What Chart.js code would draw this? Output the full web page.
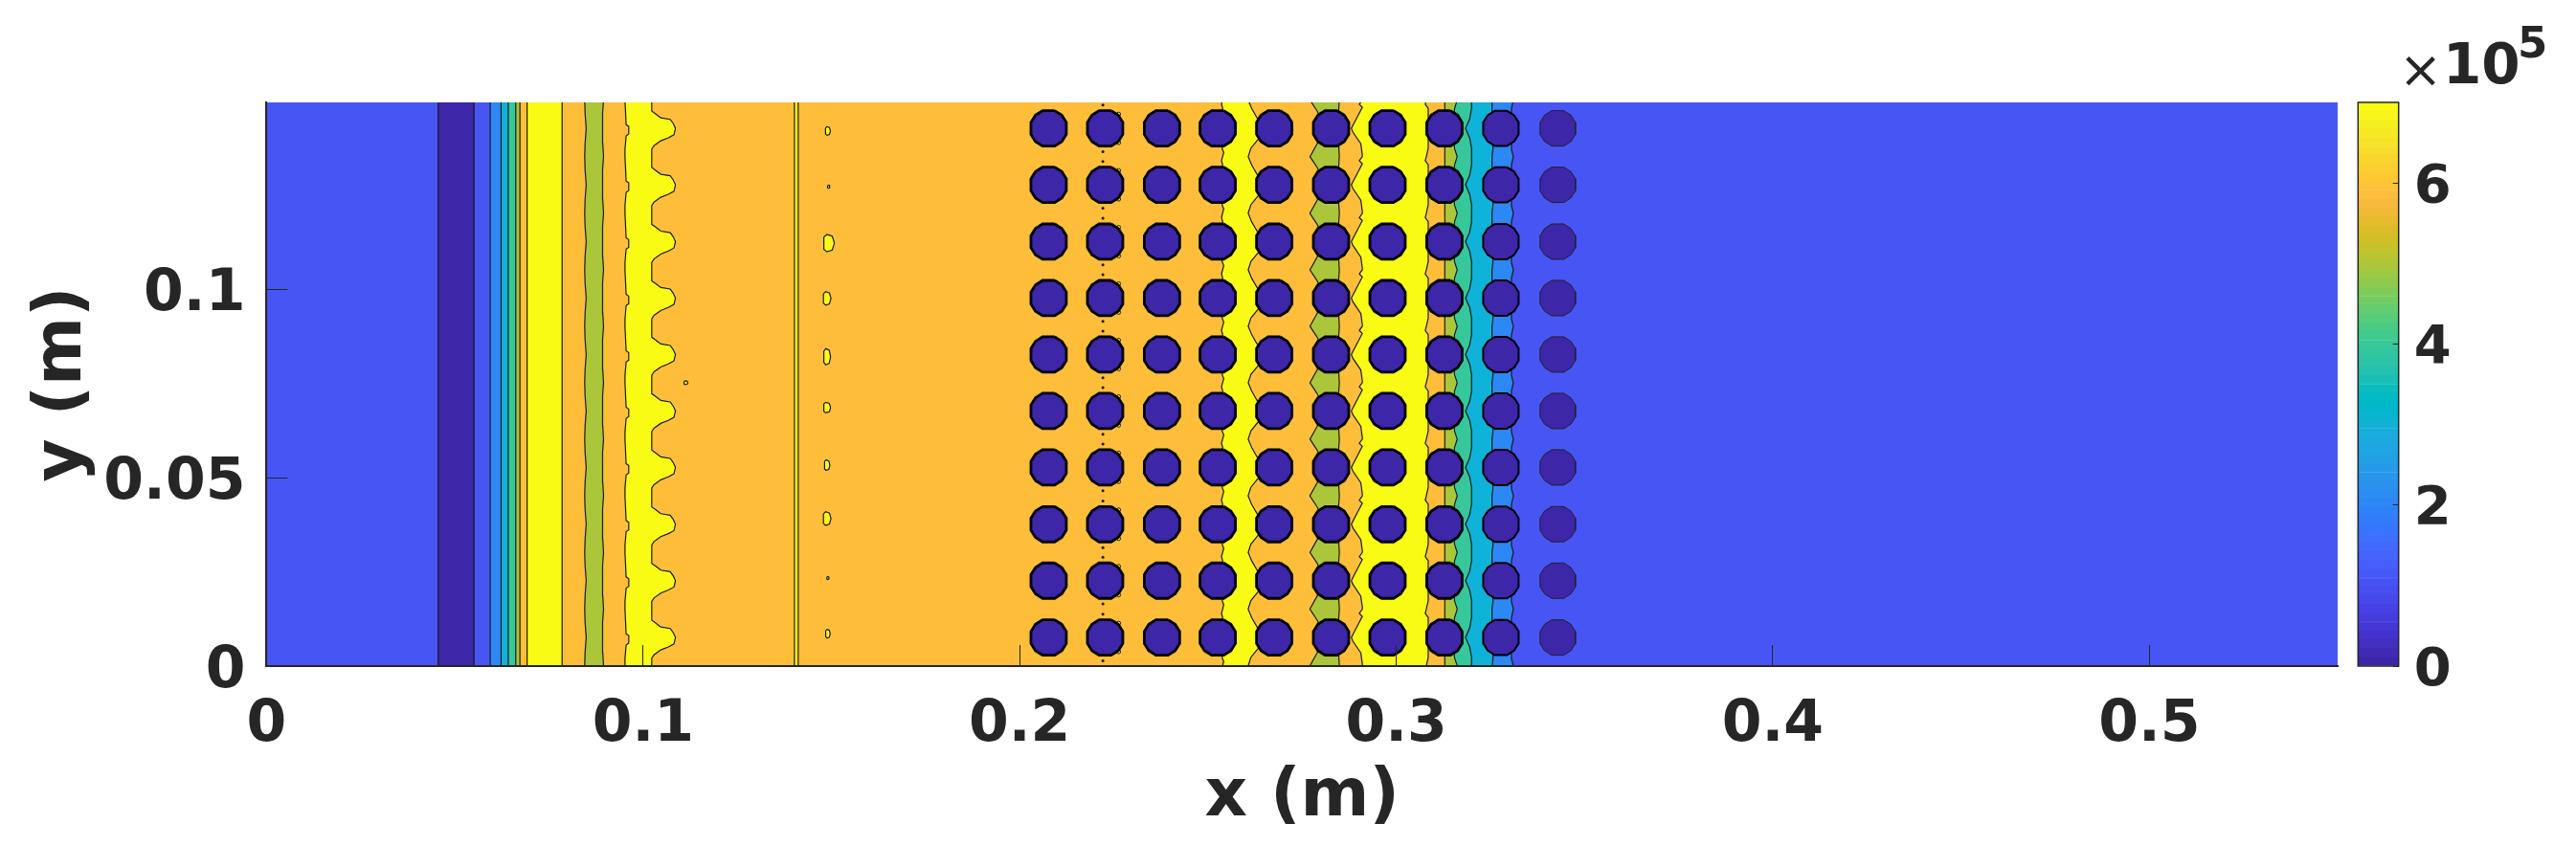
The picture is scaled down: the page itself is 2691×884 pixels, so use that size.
<!DOCTYPE html>
<html lang="en">
<head>
    <meta charset="UTF-8">
    <title>Contour plot</title>
    <script src="https://cdn.jsdelivr.net/npm/chart.js"></script>
    <style>
        body { margin: 0; background: white; }
        #wrap { position: relative; width: 2691px; height: 884px; overflow: hidden; }
        canvas { position: absolute; left: 0; top: 0; }
        .exp { position: absolute; color: #262626; font-family: "DejaVu Sans"; line-height: 1; white-space: pre; }
    </style>
</head>
<body>
    <div id="wrap">
        <canvas id="contour" width="2691" height="884"></canvas>
        <canvas id="colorbar" width="2691" height="884"></canvas>
        <span class="exp" style="left:2506px;top:46px;font-size:54px;">×</span>
        <span class="exp" style="left:2552px;top:38px;font-size:58px;font-weight:bold;">10</span>
        <span class="exp" style="left:2630px;top:22px;font-size:45px;font-weight:bold;">5</span>
    </div>

    <script>
        // axis ranges and ticks
        const xMax = 0.55;
        const yMax = 0.1498;
        const xTicks = [0, 0.1, 0.2, 0.3, 0.4, 0.5];
        const xTickLabels = ['0', '0.1', '0.2', '0.3', '0.4', '0.5'];
        const yTicks = [0, 0.05, 0.1];
        const yTickLabels = ['0', '0.05', '0.1'];
        const cbarTicks = [0, 200000, 400000, 600000];
        const cbarTickLabels = ['0', '2', '4', '6'];
        const cbarMax = 700000;

        // contour fill colours
        const dark = '#3D26A8', blue = '#4755F5', lblue = '#2C88F4', cyan = '#0FB2D8';
        const teal = '#36C79B', green = '#ABC63A', orange = '#FEBE3A', yellow = '#F9FB15';

        // cylinder centres (m)
        const cylX = [0.2077, 0.2227, 0.2378, 0.2526, 0.2676, 0.2827, 0.2977, 0.3128, 0.3278, 0.3429];
        const cylY = [0.0076, 0.0227, 0.0377, 0.0528, 0.0678, 0.0828, 0.0978, 0.1128, 0.1279, 0.1429];
        const cylEdgeWidth = [2.8, 2.8, 2.8, 2.8, 2.8, 2.8, 2.8, 2.8, 2, 1];
        // cylinder outline relative to its centre
        const cylOutlineX = [0.0016, 0.0035, 0.0047, 0.0047, 0.0035, 0.0016, -0.0016, -0.0035, -0.0047, -0.0047, -0.0035, -0.0016, 0.0016];
        const cylOutlineY = [0.0047, 0.0035, 0.0016, -0.0016, -0.0035, -0.0047, -0.0047, -0.0035, -0.0016, 0.0016, 0.0035, 0.0047, 0.0047];

        // straight contours (x in m)
        const bandEdges = [0.0456, 0.0551, 0.0594, 0.0623, 0.0642, 0.0662, 0.0673, 0.0692, 0.0785];
        const bandColors = [dark, blue, lblue, cyan, teal, green, orange, yellow, orange];

        // wavy contours, one period around a cylinder row: x (m) and y offset from the row (m)
        const greenLeftX = [0.0845, 0.0846, 0.0849, 0.0846, 0.0845];
        const greenLeftDy = [-0.0075, -0.004, 0, 0.004, 0.0075];
        const greenRightX = [0.0895, 0.0893, 0.0892, 0.0893, 0.0895];
        const greenRightDy = [-0.0075, -0.004, 0, 0.004, 0.0075];
        const nickX = [0.0952, 0.0952, 0.0955, 0.0962, 0.0962, 0.0955, 0.0952];
        const nickDy = [-0.0075, -0.0056, -0.002, -0.0015, 0.0005, 0.001, 0.0075];
        const bumpX = [0.1023, 0.1023, 0.1029, 0.1047, 0.1067, 0.1082, 0.1086, 0.108, 0.1072, 0.1047, 0.1034, 0.1023, 0.1023];
        const bumpDy = [-0.0075, -0.0055, -0.0046, -0.0033, -0.0025, -0.0017, 0, 0.0013, 0.0024, 0.0028, 0.0038, 0.0046, 0.0075];
        const gapX = [0.2539, 0.2542, 0.2538, 0.2539, 0.2539, 0.2536, 0.2539];
        const gapDy = [-0.0075, -0.0064, -0.0054, 0, 0.0054, 0.0064, 0.0075];
        const lensX = [0.2607, 0.2614, 0.2631, 0.2661, 0.2631, 0.2616, 0.2607];
        const lensDy = [-0.0075, -0.0053, -0.0032, 0, 0.0027, 0.0053, 0.0075];
        const midLeftX = [0.2771, 0.279, 0.2813, 0.279, 0.2771];
        const midLeftDy = [-0.0075, -0.0041, 0, 0.0046, 0.0075];
        const midRightX = [0.2849, 0.2847, 0.2845, 0.2847, 0.2849];
        const midRightDy = [-0.0075, -0.0041, 0, 0.0046, 0.0075];
        const pinchX = [0.291, 0.291, 0.2906, 0.2885, 0.2881, 0.2885, 0.2897, 0.291, 0.2902, 0.291];
        const pinchDy = [-0.0075, -0.007, -0.0041, -0.001, 0, 0.0008, 0.0031, 0.0056, 0.0064, 0.0075];
        const rightYellowX = [0.308, 0.3085, 0.3085, 0.3085, 0.3077, 0.308];
        const rightYellowDy = [-0.0075, -0.0053, 0, 0.0053, 0.0064, 0.0075];
        const tealX = [0.3162, 0.3155, 0.315, 0.3155, 0.3162];
        const tealDy = [-0.0075, -0.0054, 0, 0.0053, 0.0075];
        const cyanX = [0.32, 0.32, 0.3195, 0.3184, 0.3195, 0.32, 0.32];
        const cyanDy = [-0.0075, -0.0053, -0.0025, 0, 0.0025, 0.0053, 0.0075];
        const lblueX = [0.3255, 0.3257, 0.3255, 0.3253, 0.3255];
        const lblueDy = [-0.0075, -0.0053, 0, 0.0053, 0.0075];
        const blueX = [0.3311, 0.3306, 0.3306, 0.3306, 0.3311];
        const blueDy = [-0.0075, -0.0056, 0, 0.0053, 0.0075];

        // small closed yellow islands
        const islandX = [0.1491, 0.1493, 0.1494, 0.1489, 0.1489, 0.1489, 0.1489, 0.1489, 0.1491, 0.1491, 0.1114];
        const islandY = [0.1422, 0.1274, 0.1124, 0.0977, 0.0822, 0.0687, 0.0534, 0.0392, 0.0234, 0.0086, 0.0753];
        const islandW = [0.0013, 0.0006, 0.0028, 0.002, 0.0018, 0.0018, 0.0014, 0.002, 0.0006, 0.0012, 0.001];
        const islandH = [0.0023, 0.0008, 0.0046, 0.0036, 0.0043, 0.0028, 0.0028, 0.0036, 0.0008, 0.0023, 0.001];
        const islandShapeX = [-0.5, -0.2, 0.3, 0.5, 0.3, -0.2, -0.5, -0.5];
        const islandShapeY = [0.35, 0.5, 0.4, 0, -0.4, -0.5, -0.35, 0.35];

        // specks around the second cylinder column
        const speckX = 0.2221;
        const speckDy = [-0.0062, 0.0062];
        const sliverX = 0.2263;
        const sliverDy = [-0.0038, 0.0038];

        // colormap levels of the colour bar
        const cbarColors = [
            '#3E26A8', '#402AB4', '#422EBF', '#4332CB', '#4537D5', '#463CDE', '#4741E5', '#4747EB',
            '#484DF0', '#4852F4', '#4758F8', '#465EFB', '#4563FD', '#4269FE', '#3E6FFF', '#3875FE',
            '#327BFC', '#2F81FA', '#2D87F7', '#2D8CF3', '#2B91EF', '#2796EB', '#259BE7', '#23A0E5',
            '#20A5E3', '#1CA9DF', '#18ADDB', '#12B1D6', '#08B5D0', '#01B8CA', '#02BAC3', '#0BBDBC',
            '#19BFB6', '#24C1AE', '#2CC3A7', '#31C69F', '#37C897', '#3FCA8E', '#4ACB84', '#57CC7A',
            '#64CD6F', '#72CC64', '#81CC59', '#8FCA4E', '#9DC943', '#ABC739', '#B9C431', '#C5C22A',
            '#D1BF27', '#DCBD29', '#E6BB2D', '#F0BA36', '#F8BA3D', '#FEBE3C', '#FEC338', '#FEC832',
            '#FCCF30', '#F9D52D', '#F7DC2A', '#F5E327', '#F5E924', '#F6EF20', '#F7F51B', '#F9FB15'
        ];

        const black = '#1a1a1a';
        const textColor = '#262626';

        function flatEdge(x) {
            return [{ x: x, y: -0.01 }, { x: x, y: 0.16 }];
        }

        // repeat one measured period along all the cylinder rows
        function rowEdge(xs, dys) {
            const pts = [{ x: xs[0], y: -0.01 }];
            cylY.forEach(function (rowY) {
                xs.forEach(function (x, i) {
                    pts.push({ x: x, y: rowY + dys[i] });
                });
            });
            pts.push({ x: xs[xs.length - 1], y: 0.16 });
            return pts;
        }

        const contours = bandEdges.map(function (x, i) {
            return { pts: flatEdge(x), color: bandColors[i] };
        });
        contours.push({ pts: rowEdge(greenLeftX, greenLeftDy), color: green });
        contours.push({ pts: rowEdge(greenRightX, greenRightDy), color: orange });
        contours.push({ pts: rowEdge(nickX, nickDy), color: yellow });
        contours.push({ pts: rowEdge(bumpX, bumpDy), color: orange });
        contours.push({ pts: flatEdge(0.1402), color: yellow });
        contours.push({ pts: flatEdge(0.1412), color: orange });
        contours.push({ pts: rowEdge(gapX, gapDy), color: yellow });
        contours.push({ pts: rowEdge(lensX, lensDy), color: orange });
        contours.push({ pts: rowEdge(midLeftX, midLeftDy), color: green });
        contours.push({ pts: rowEdge(midRightX, midRightDy), color: orange });
        contours.push({ pts: rowEdge(pinchX, pinchDy), color: yellow });
        contours.push({ pts: rowEdge(rightYellowX, rightYellowDy), color: orange });
        contours.push({ pts: flatEdge(0.3129), color: green });
        contours.push({ pts: rowEdge(tealX, tealDy), color: teal });
        contours.push({ pts: rowEdge(cyanX, cyanDy), color: cyan });
        contours.push({ pts: rowEdge(lblueX, lblueDy), color: lblue });
        contours.push({ pts: rowEdge(blueX, blueDy), color: blue });

        const datasets = [];

        function addFill(pts, color) {
            datasets.push({
                data: pts, showLine: true, fill: 'shape', backgroundColor: color,
                borderWidth: 0, borderColor: 'transparent', pointRadius: 0, tension: 0, clip: 0
            });
        }

        function addLine(pts, width) {
            datasets.push({
                data: pts, showLine: true, fill: false, borderColor: black,
                borderWidth: width, pointRadius: 0, tension: 0, clip: 0
            });
        }

        // background, then each contour band painted over everything to its right
        addFill([{ x: 0, y: -0.01 }, { x: 0, y: 0.16 }, { x: xMax, y: 0.16 }, { x: xMax, y: -0.01 }], blue);
        contours.forEach(function (c) {
            addFill(c.pts.concat([{ x: xMax, y: 0.16 }, { x: xMax, y: -0.01 }]), c.color);
            addLine(c.pts, 1.2);
        });

        islandX.forEach(function (x, i) {
            const pts = islandShapeX.map(function (sx, k) {
                return { x: x + sx * islandW[i], y: islandY[i] + islandShapeY[k] * islandH[i] };
            });
            datasets.push({
                data: pts, showLine: true, fill: 'shape', backgroundColor: yellow,
                borderColor: black, borderWidth: 1.2, pointRadius: 0, clip: 0
            });
        });

        const speckPts = [];
        const sliverPts = [];
        cylY.forEach(function (rowY) {
            speckDy.forEach(function (d) { speckPts.push({ x: speckX, y: rowY + d }); });
            sliverDy.forEach(function (d) { sliverPts.push({ x: sliverX, y: rowY + d }); });
        });
        datasets.push({ data: sliverPts, pointRadius: 2, pointBackgroundColor: yellow, pointBorderColor: black, pointBorderWidth: 1 });
        datasets.push({ data: speckPts, pointRadius: 1.5, pointBackgroundColor: black, pointBorderWidth: 0 });

        // cylinders on top
        cylX.forEach(function (cx, col) {
            cylY.forEach(function (cy) {
                const pts = cylOutlineX.map(function (ox, k) {
                    return { x: cx + ox, y: cy + cylOutlineY[k] };
                });
                datasets.push({
                    data: pts, showLine: true, fill: 'shape', backgroundColor: dark,
                    borderColor: col === 9 ? '#222222' : '#000000', borderWidth: cylEdgeWidth[col],
                    pointRadius: 0, clip: 0
                });
            });
        });

        // later datasets sit on top
        datasets.forEach(function (d, i) { d.order = -i; });

        new Chart(document.getElementById('contour'), {
            type: 'scatter',
            data: { datasets: datasets },
            options: {
                responsive: false,
                animation: false,
                events: [],
                layout: { padding: { top: 107, right: 249, left: 0, bottom: 0 } },
                plugins: {
                    legend: { display: false },
                    tooltip: { enabled: false },
                    filler: { drawTime: 'beforeDatasetDraw' }
                },
                scales: {
                    x: {
                        type: 'linear', min: 0, max: xMax,
                        afterFit: function (s) { s.height = 188; },
                        afterBuildTicks: function (s) { s.ticks = xTicks.map(function (v) { return { value: v }; }); },
                        grid: { drawOnChartArea: false, tickLength: -22, tickColor: textColor, tickWidth: 1, z: 1 },
                        border: { color: textColor, width: 2, z: 1 },
                        ticks: {
                            color: textColor, maxRotation: 0, autoSkip: false, padding: 48,
                            font: { family: 'DejaVu Sans', weight: 'bold', size: 60 },
                            callback: function (v, i) { return xTickLabels[i]; }
                        },
                        title: {
                            display: true, text: 'x (m)', color: textColor, padding: 9,
                            font: { family: 'DejaVu Sans', weight: 'bold', size: 69 }
                        }
                    },
                    y: {
                        type: 'linear', min: 0, max: yMax,
                        afterFit: function (s) { s.width = 278.4; },
                        afterBuildTicks: function (s) { s.ticks = yTicks.map(function (v) { return { value: v }; }); },
                        grid: { drawOnChartArea: false, tickLength: -22, tickColor: textColor, tickWidth: 1, z: 1 },
                        border: { color: textColor, width: 2, z: 1 },
                        ticks: {
                            color: textColor, autoSkip: false, padding: 44, labelOffset: 6,
                            font: { family: 'DejaVu Sans', weight: 'bold', size: 60 },
                            callback: function (v, i) { return yTickLabels[i]; }
                        },
                        title: {
                            display: true, text: 'y (m)', color: textColor, padding: 25,
                            font: { family: 'DejaVu Sans', weight: 'bold', size: 69 }
                        }
                    }
                }
            }
        });

        // colour bar
        const cbarSets = cbarColors.map(function (c, i) {
            const step = cbarMax / cbarColors.length;
            return {
                data: [[i * step, (i + 1) * step]], backgroundColor: c,
                borderColor: c, borderWidth: 0.5, borderSkipped: false,
                barPercentage: 1, categoryPercentage: 1
            };
        });

        const cbarBox = {
            id: 'cbarBox',
            afterDraw: function (chart) {
                const a = chart.chartArea;
                chart.ctx.strokeStyle = textColor;
                chart.ctx.lineWidth = 1.5;
                chart.ctx.strokeRect(a.left, a.top, a.right - a.left, a.bottom - a.top);
            }
        };

        new Chart(document.getElementById('colorbar'), {
            type: 'bar',
            data: { labels: [''], datasets: cbarSets },
            plugins: [cbarBox],
            options: {
                responsive: false,
                animation: false,
                events: [],
                layout: { padding: { top: 107, left: 2463.3, right: 0, bottom: 188 } },
                plugins: { legend: { display: false }, tooltip: { enabled: false } },
                scales: {
                    x: { display: false, stacked: true },
                    y: {
                        position: 'right', min: 0, max: cbarMax,
                        afterFit: function (s) { s.width = 185.3; },
                        afterBuildTicks: function (s) { s.ticks = cbarTicks.map(function (v) { return { value: v }; }); },
                        grid: { drawOnChartArea: false, tickLength: -6, tickColor: textColor, tickWidth: 1, z: 1 },
                        border: { display: false },
                        ticks: {
                            color: textColor, autoSkip: false, padding: 22, labelOffset: 5,
                            font: { family: 'DejaVu Sans', weight: 'bold', size: 56 },
                            callback: function (v, i) { return cbarTickLabels[i]; }
                        }
                    }
                }
            }
        });
    </script>
</body>
</html>
